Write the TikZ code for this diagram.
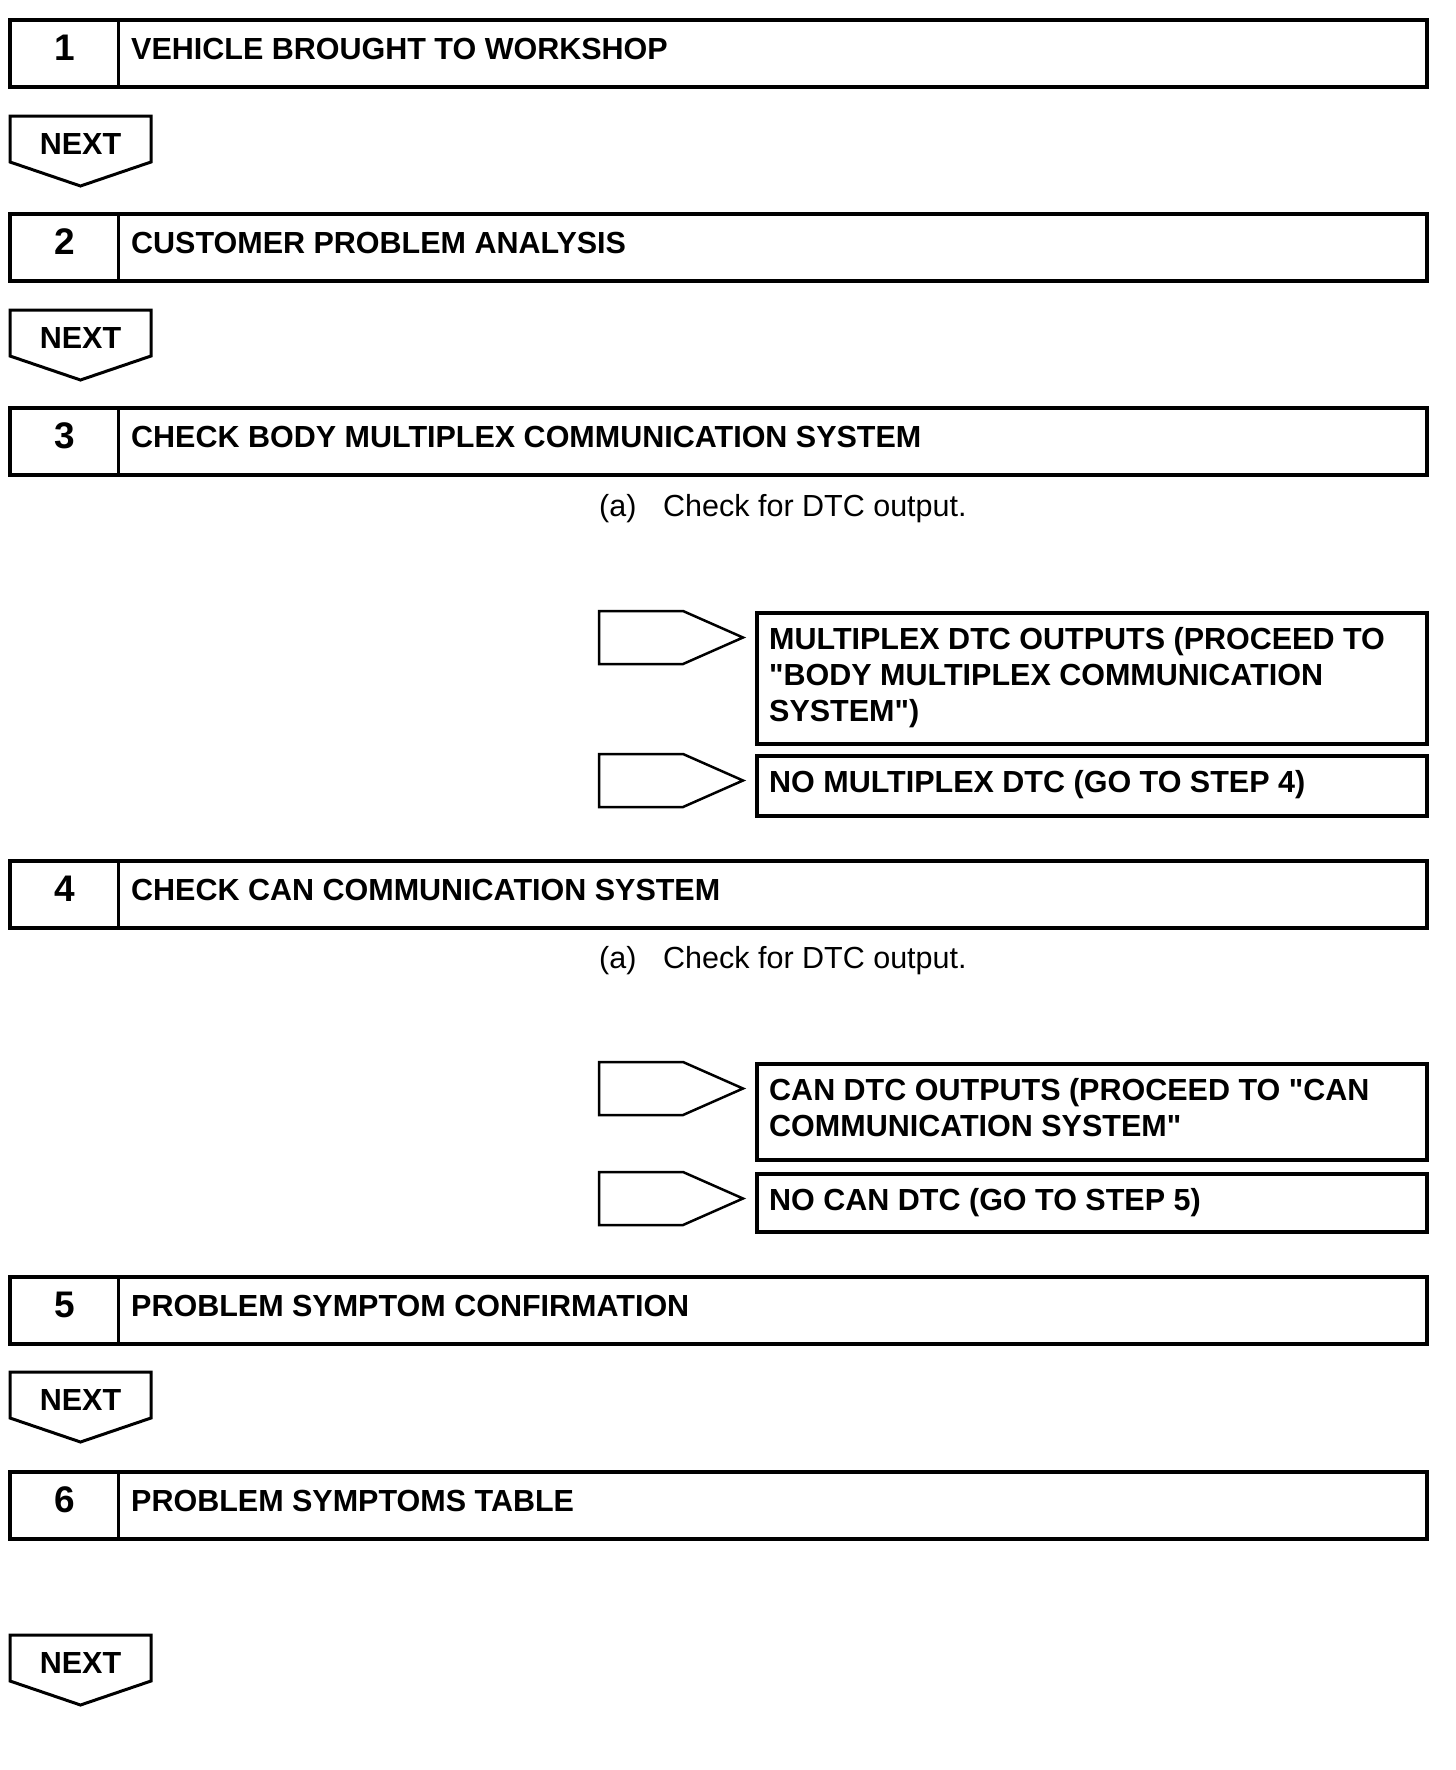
\documentclass[tikz,border=0pt]{standalone}
\usepackage{fontspec}
\setmainfont{Liberation Sans}[Ligatures=TeXOff]
\newcommand\mkstep[4]{%
  \node[stepframe, anchor=north west] (#1) at (8,#2) {};
  \path (#1.north west) ++(110.5,0) coordinate (#1d1) ++(0,67) coordinate (#1d2);
  \draw[frameline] (#1d1) -- (#1d2);
  \node[numlbl] (#1n) at (65,#2+42) {#3};
  \node[lbl] (#1t) at (131,#2+41) {#4};
}
\newcommand\mknext[2]{%
  \draw[nextline] (10,#2) -- (151,#2) -- (151,#2+46) -- (80.5,#2+70) -- (10,#2+46) -- cycle;
  \node[nextlbl] (#1) at (80.5,#2+38) {NEXT};
}
\newcommand\mkpent[2]{%
  \coordinate (#1) at (599,#2);
  \draw[pentline] (#1) -- ++(84,0) -- ++(60,26.5) -- ++(-60,26.5) -- ++(-84,0) -- cycle;
}
\begin{document}
\begin{tikzpicture}[x=1pt,y=-1pt,
  frameline/.style={line width=3.5pt},
  stepframe/.style={draw, line width=3.5pt, minimum width=1417pt, minimum height=67pt, inner sep=0pt},
  resframe/.style={draw, line width=3.5pt, minimum width=670pt, inner sep=0pt, anchor=north west},
  lbl/.style={font=\fontsize{30.5}{36}\selectfont\bfseries, anchor=base west, inner sep=0pt},
  numlbl/.style={font=\fontsize{37}{40}\selectfont\bfseries, anchor=base, inner sep=0pt},
  nextlbl/.style={font=\fontsize{30.5}{36}\selectfont\bfseries, anchor=base, inner sep=0pt},
  plain/.style={font=\fontsize{30.5}{36}\selectfont, anchor=base west, inner sep=0pt},
  nextline/.style={line width=3pt, line join=miter},
  pentline/.style={line width=2.5pt, line join=miter}]
\useasboundingbox (0,0) rectangle (1456,1770);

\mkstep{s1}{18}{1}{VEHICLE BROUGHT TO WORKSHOP}
\mknext{n1}{116}
\mkstep{s2}{212}{2}{CUSTOMER PROBLEM ANALYSIS}
\mknext{n2}{310}
\mkstep{s3}{406}{3}{CHECK BODY MULTIPLEX COMMUNICATION SYSTEM}

\node[plain] (a3) at (599,516) {(a)};
\node[plain] (c3) at (663,516) {Check for DTC output.};

\mkpent{p1}{611}
\node[resframe, minimum height=131pt] (r1) at (755,611) {};
\node[lbl] (r1a) at (769,649) {MULTIPLEX DTC OUTPUTS (PROCEED TO};
\node[lbl] (r1b) at (769,685) {"BODY MULTIPLEX COMMUNICATION};
\node[lbl] (r1c) at (769,721) {SYSTEM")};

\mkpent{p2}{754}
\node[resframe, minimum height=60pt] (r2) at (755,754) {};
\node[lbl] (r2a) at (769,792) {NO MULTIPLEX DTC (GO TO STEP 4)};

\mkstep{s4}{859}{4}{CHECK CAN COMMUNICATION SYSTEM}

\node[plain] (a4) at (599,968) {(a)};
\node[plain] (c4) at (663,968) {Check for DTC output.};

\mkpent{p3}{1062}
\node[resframe, minimum height=96pt] (r3) at (755,1062) {};
\node[lbl] (r3a) at (769,1100) {CAN DTC OUTPUTS (PROCEED TO "CAN};
\node[lbl] (r3b) at (769,1136) {COMMUNICATION SYSTEM"};

\mkpent{p4}{1172}
\node[resframe, minimum height=58pt] (r4) at (755,1172) {};
\node[lbl] (r4a) at (769,1210) {NO CAN DTC (GO TO STEP 5)};

\mkstep{s5}{1275}{5}{PROBLEM SYMPTOM CONFIRMATION}
\mknext{n3}{1372}
\mkstep{s6}{1470}{6}{PROBLEM SYMPTOMS TABLE}
\mknext{n4}{1635}
\end{tikzpicture}
\end{document}
